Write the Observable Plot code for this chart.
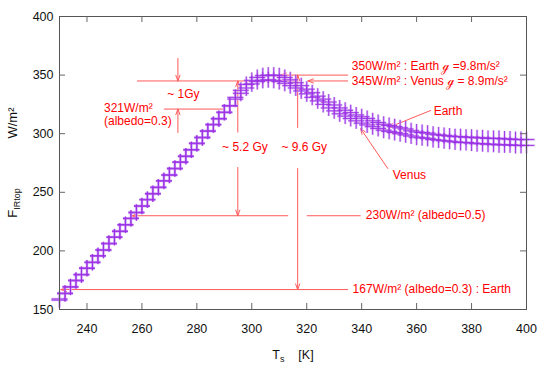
<!DOCTYPE html>
<html>
<head>
<meta charset="utf-8">
<script src="https://cdn.jsdelivr.net/npm/d3@7"></script>
<script src="https://cdn.jsdelivr.net/npm/@observablehq/plot@0.6"></script>
<style>
  html, body { margin: 0; padding: 0; background: #fff; }
  #chart svg { display: block; }
</style>
</head>
<body>
<div id="chart"></div>
<script>
// Surface temperature Ts [K]
const temps = [230,232,234,236,238,240,242,244,246,248,250,252,254,256,258,260,262,264,266,268,
  270,272,274,276,278,280,282,284,286,288,290,292,294,296,298,300,302,304,306,308,
  310,312,314,316,318,320,322,324,326,328,330,332,334,336,338,340,342,344,346,348,
  350,352,354,356,358,360,362,364,366,368,370,372,374,376,378,380,382,384,386,388,
  390,392,394,396,398,400];

// F_IRtop [W/m2] — Earth
const earthF = [159,164,169.5,175,180,185.5,190.5,196,201,206.5,212,217,222.5,228,233,238.5,244,249,254.5,260,
  265,270.5,276,281,286.5,292,297,302.5,308,313,318.5,324,331,337,342,345.5,348,349.5,350,350,
  349.5,348,346,343.5,341,338,335,332,329.5,327,324.5,322,320,318,316,314.5,313,311,309.5,308,
  307,306,305,304,302.5,301.5,301,300.5,299.5,299,298.5,298,297.5,297.5,297,297,296.5,296.5,296,296,
  296,295.5,295.5,295,295,295];

// F_IRtop [W/m2] — Venus
const venusF = [158,163.5,169,174.5,179.5,185,190,195.5,200.5,206,211.5,216.5,222,227.5,232.5,238,243.5,248.5,254,259.5,
  264.5,270,275.5,280.5,286,291.5,296.5,302,307.5,312.5,318,323.5,329.5,334.5,339,342.5,344.5,345.5,346,345.5,
  344.5,343,341,339,336.5,334,331,328,325,322,319.5,317,315,313,311,309,307.5,306,304.5,303,
  302,301,300,299,298,297,296.5,296,295,294.5,294,293.5,293,292.5,292.5,292,291.5,291.5,291,291,
  290.5,290.5,290.5,290,290,290];

const xTickValues = [240,260,280,300,320,340,360,380];
const xLabelValues = [240,260,280,300,320,340,360,380,400];
const yTickValues = [200,250,300,350];
const yLabelValues = [150,200,250,300,350,400];

// Annotation segments (data coordinates: Ts, W/m2)
const plainSegments = [
  {x1: 258.2, y1: 345, x2: 316.7, y2: 345},
  {x1: 268.0, y1: 321, x2: 289.8, y2: 321},
  {x1: 320.0, y1: 230, x2: 339.6, y2: 230}
];
const arrowSegments = [
  {x1: 334.9, y1: 350, x2: 310.5, y2: 350},
  {x1: 334.9, y1: 345, x2: 320.4, y2: 345},
  {x1: 273.1, y1: 364.2, x2: 273.1, y2: 345},
  {x1: 273.1, y1: 301.0, x2: 273.1, y2: 321},
  {x1: 294.9, y1: 301.3, x2: 294.9, y2: 345},
  {x1: 294.9, y1: 271.2, x2: 294.9, y2: 230},
  {x1: 316.7, y1: 305.3, x2: 316.7, y2: 350},
  {x1: 316.7, y1: 270.3, x2: 316.7, y2: 167},
  {x1: 313.1, y1: 230, x2: 256.4, y2: 230},
  {x1: 334.9, y1: 167, x2: 230.5, y2: 167},
  {x1: 365.1, y1: 319.8, x2: 349.8, y2: 305.3},
  {x1: 349.5, y1: 270.3, x2: 339.6, y2: 304.4}
];
const startNotes = [
  {x: 336.4, y: 357.3, text: "350W/m² : Earth ℊ =9.8m/s²"},
  {x: 336.4, y: 344.6, text: "345W/m² : Venus ℊ = 8.9m/s²"},
  {x: 246.2, y: 322.0, text: "321W/m²"},
  {x: 246.2, y: 310.6, text: "(albedo=0.3)"},
  {x: 341.5, y: 230.2, text: "230W/m² (albedo=0.5)"},
  {x: 336.7, y: 167.1, text: "167W/m² (albedo=0.3) : Earth"},
  {x: 366.2, y: 318.9, text: "Earth"},
  {x: 351.3, y: 264.3, text: "Venus"}
];
const middleNotes = [
  {x: 275.1, y: 333.8, text: "~ 1Gy"},
  {x: 297.5, y: 288.2, text: "~ 5.2 Gy"},
  {x: 319.1, y: 288.2, text: "~ 9.6 Gy"}
];

const data = [
  ...temps.map((t, i) => ({T: t, F: earthF[i], body: "Earth"})),
  ...temps.map((t, i) => ({T: t, F: venusF[i], body: "Venus"}))
];

const W = 545, H = 382, mL = 59, mR = 19, mT = 16, mB = 73;
const plotW = W - mL - mR, plotH = H - mT - mB, tickLen = 6;
const red = "#ff0000", redLine = "#ff5a5a";
const font = "'Liberation Sans', Arial, sans-serif";

const svg = Plot.plot({
  width: W, height: H,
  marginLeft: mL, marginRight: mR, marginTop: mT, marginBottom: mB,
  style: {fontFamily: font, fontSize: "12px", background: "#fff", color: "#111"},
  x: {domain: [230, 400]},
  y: {domain: [150, 400]},
  marks: [
    // red annotation lines
    Plot.link(plainSegments, {x1: "x1", y1: "y1", x2: "x2", y2: "y2", stroke: redLine, strokeWidth: 1}),
    Plot.arrow(arrowSegments, {x1: "x1", y1: "y1", x2: "x2", y2: "y2", stroke: redLine, strokeWidth: 1, headLength: 9, headAngle: 40}),
    // curves: plus markers (light thick + dark thin)
    Plot.dot(data, {x: "T", y: "F", symbol: "plus", r: 5.2, stroke: "#cfa3f4", strokeWidth: 2.4, strokeOpacity: 0.7}),
    Plot.dot(data, {x: "T", y: "F", symbol: "plus", r: 5.2, stroke: "#9a2ee4", strokeWidth: 0.9}),
    // red texts
    Plot.text(startNotes, {x: "x", y: "y", text: "text", textAnchor: "start", fill: red, fontSize: 12}),
    Plot.text(middleNotes, {x: "x", y: "y", text: "text", textAnchor: "middle", fill: red, fontSize: 12}),
    // frame and inward ticks
    Plot.frame({stroke: "#555"}),
    Plot.tickX(xTickValues, {x: d => d, insetTop: plotH - tickLen, stroke: "#666"}),
    Plot.tickX(xTickValues, {x: d => d, insetBottom: plotH - tickLen, stroke: "#666"}),
    Plot.tickY(yTickValues, {y: d => d, insetRight: plotW - tickLen, stroke: "#666"}),
    Plot.tickY(yTickValues, {y: d => d, insetLeft: plotW - tickLen, stroke: "#666"}),
    Plot.axisX({ticks: xLabelValues, tickSize: 0, tickPadding: 15, label: null, fontSize: 12.5}),
    Plot.axisY({ticks: yLabelValues, tickSize: 0, tickPadding: 6, label: null, fontSize: 12.5})
  ]
});

// Axis titles (with subscripts)
const s = d3.select(svg);
const xt = s.append("text")
  .attr("x", 293).attr("y", 359)
  .attr("text-anchor", "middle")
  .attr("font-family", font)
  .attr("font-size", 12.5).attr("fill", "#111")
  .style("white-space", "pre");
xt.append("tspan").text("T");
xt.append("tspan").attr("dy", 3).attr("font-size", 9).text("s");
xt.append("tspan").attr("dy", -3).text("    [K]");

s.append("text")
  .attr("transform", "translate(17,123) rotate(-90)")
  .attr("text-anchor", "middle")
  .attr("font-family", font)
  .attr("font-size", 13).attr("fill", "#111")
  .text("W/m²");

const yt2 = s.append("text")
  .attr("transform", "translate(17,203) rotate(-90)")
  .attr("text-anchor", "middle")
  .attr("font-family", font)
  .attr("font-size", 13).attr("fill", "#111");
yt2.append("tspan").text("F");
yt2.append("tspan").attr("dy", 3).attr("font-size", 9).text("IRtop");

document.getElementById("chart").appendChild(svg);
</script>
</body>
</html>
